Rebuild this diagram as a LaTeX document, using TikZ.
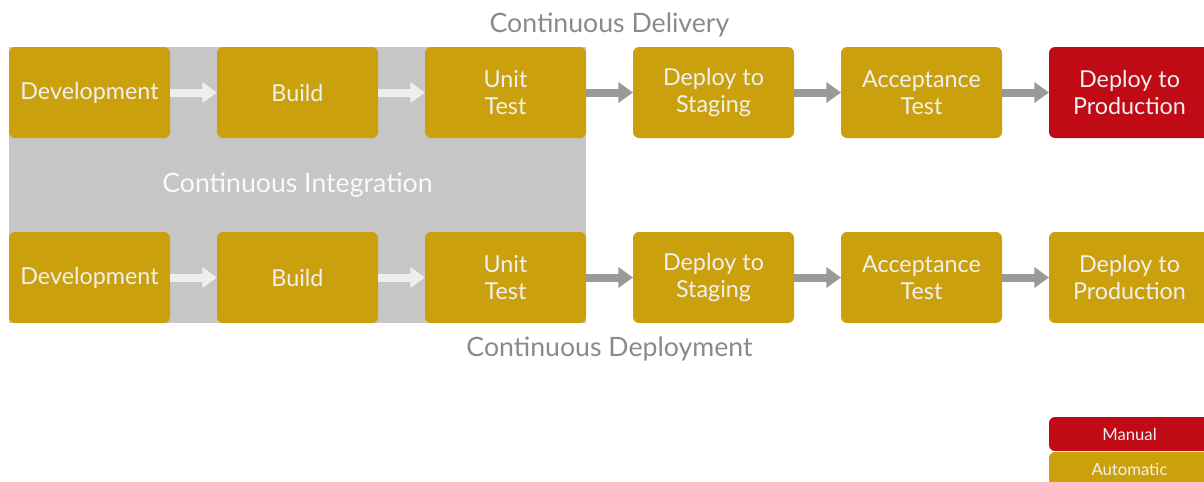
\documentclass[tikz,border=0pt]{standalone}
\usepackage{fontspec}
\setsansfont{Lato}
\usetikzlibrary{arrows.meta, positioning, fit, backgrounds, calc}
\definecolor{colorPaso}{HTML}{CBA00D}
\definecolor{colorManual}{HTML}{C00A16}
\definecolor{fondoCI}{HTML}{C6C6C6}
\definecolor{flechaGris}{HTML}{999999}
\definecolor{flechaClara}{HTML}{EEEEEE}
\definecolor{textoTitulo}{HTML}{8A8A8A}
\begin{document}
\begin{tikzpicture}[font=\sffamily, node distance=70.5pt and 35.25pt,
        paso/.style={fill=colorPaso, text=white!94!black, rounded corners=4.5pt,
            minimum width=120.75pt, minimum height=68.25pt, align=center,
            font=\sffamily\fontsize{17.5}{20}\selectfont, inner sep=0pt, outer sep=0pt},
        manual/.style={paso, fill=colorManual},
        leyenda/.style={paso, minimum height=25.5pt, font=\sffamily\fontsize{12.5}{14}\selectfont},
        fl/.style={-{Triangle[length=11pt, width=15pt]}, line width=6pt, flechaGris},
        flci/.style={fl, flechaClara},
        titulo/.style={text=textoTitulo, font=\sffamily\fontsize{20}{22}\selectfont}]
        \clip (-6.75pt,35.25pt) rectangle (896.25pt,-326.25pt);
        % continuous delivery
        \node[paso, anchor=north west] (dev1) at (0,0) {Development};
        \node[paso, right=of dev1] (bld1) {Build};
        \node[paso, right=of bld1] (ut1) {Unit\\Test};
        \node[paso, right=of ut1] (stg1) {Deploy to\\Staging};
        \node[paso, right=of stg1] (acc1) {Acceptance\\Test};
        \node[manual, right=of acc1] (prd1) {Deploy to\\Production};
        % continuous deployment
        \node[paso, below=of dev1] (dev2) {Development};
        \node[paso, right=of dev2] (bld2) {Build};
        \node[paso, right=of bld2] (ut2) {Unit\\Test};
        \node[paso, right=of ut2] (stg2) {Deploy to\\Staging};
        \node[paso, right=of stg2] (acc2) {Acceptance\\Test};
        \node[paso, right=of acc2] (prd2) {Deploy to\\Production};
        \begin{scope}[on background layer]
            \node[fit=(dev1)(ut2), fill=fondoCI, inner sep=0pt] (ci) {};
        \end{scope}
        \node[text=white!92!fondoCI, font=\sffamily\fontsize{20}{22}\selectfont] at (ci.center) {Continuous Integration};
        \node[titulo] at ($(dev1.north west)!0.5!(prd1.north east)+(0,16.5pt)$) {Continuous Delivery};
        \node[titulo] at ($(dev2.south west)!0.5!(prd2.south east)+(0,-19.5pt)$) {Continuous Deployment};
        \draw[flci] (dev1) -- (bld1);
        \draw[flci] (bld1) -- (ut1);
        \draw[fl] (ut1) -- (stg1);
        \draw[fl] (stg1) -- (acc1);
        \draw[fl] (acc1) -- (prd1);
        \draw[flci] (dev2) -- (bld2);
        \draw[flci] (bld2) -- (ut2);
        \draw[fl] (ut2) -- (stg2);
        \draw[fl] (stg2) -- (acc2);
        \draw[fl] (acc2) -- (prd2);
        % leyenda
        \node[leyenda, fill=colorManual, below=of prd2] (man) {Manual};
        \node[leyenda, below=0.75pt of man] (aut) {Automatic};
    \end{tikzpicture}
\end{document}
